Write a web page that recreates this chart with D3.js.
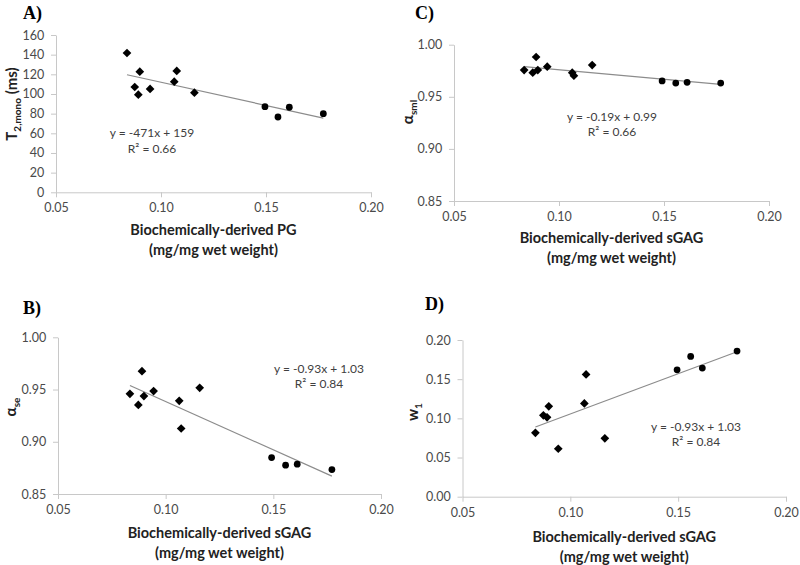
<!DOCTYPE html>
<html><head><meta charset="utf-8">
<script src="https://cdn.jsdelivr.net/npm/d3@7"></script>
<style>
body{margin:0;background:#fff;}
svg{display:block;font-family:Lato,"Open Sans",sans-serif;}
</style></head>
<body><svg id="chart" width="800" height="565"></svg>
<script>
// ---- data ----
const markerType = ["diamond","diamond","diamond","diamond","diamond","diamond","diamond","diamond","circle","circle","circle","circle"];

const pgA = [0.0838,0.0875,0.0892,0.0899,0.0948,0.1063,0.1075,0.1159,0.1495,0.1557,0.1611,0.1773];
const t2A = [141.7,107.1,99.3,122.7,105.1,112.5,123.4,101.3,87.1,76.6,86.5,80.0];

const sgagC = [0.0834,0.0875,0.0891,0.0899,0.0944,0.1063,0.1071,0.1158,0.1491,0.1556,0.1610,0.1770];
const asmlC = [0.9757,0.9731,0.9882,0.9757,0.9789,0.9731,0.9702,0.9805,0.9652,0.9632,0.9639,0.9632];

const sgagB = [0.0834,0.0873,0.0890,0.0899,0.0944,0.1063,0.1072,0.1158,0.1492,0.1557,0.1611,0.1772];
const aseB  = [0.9459,0.9353,0.9676,0.9437,0.9485,0.9392,0.9127,0.9516,0.8849,0.8776,0.8785,0.8734];

const sgagD = [0.0838,0.0875,0.0892,0.0900,0.0944,0.1065,0.1073,0.1160,0.1495,0.1558,0.1612,0.1773];
const w1D   = [0.0816,0.1038,0.1013,0.1153,0.0612,0.1191,0.1561,0.0745,0.1620,0.1791,0.1642,0.1859];

// trend lines [slope, intercept]
const trendA = [-471, 159];
const trendC = [-0.182, 0.9942];
const trendB = [-0.925, 1.031];
const trendD = [1.028, 0.0028];

const xTicks  = [0.05,0.10,0.15,0.20];
const yTicksA = [0,20,40,60,80,100,120,140,160];
const yTicksBC = [0.85,0.90,0.95,1.00];
const yTicksD = [0.00,0.05,0.10,0.15,0.20];

const eqA = ["y = -471x + 159","R² = 0.66"];
const eqC = ["y = -0.19x + 0.99","R² = 0.66"];
const eqB = ["y = -0.93x + 1.03","R² = 0.84"];
const eqD = ["y = -0.93x + 1.03","R² = 0.84"];

// ---- layout ----
const panels = [
 {label:"A)", lx:23, ly:19, x:pgA, y:t2A, trend:trendA, xr:[56,371], yr:[192.3,35], yd:[0,160], yt:yTicksA, fmt:d3.format("d"),
  title:["Biochemically-derived PG","(mg/mg wet weight)"], ty:[235,255], ytitle:{main:"T",sub:"2,mono",after:" (ms)",x:17,y:104},
  eq:eqA, ex:152, ey:[137,153]},
 {label:"C)", lx:415, ly:19, x:sgagC, y:asmlC, trend:trendC, xr:[454,769], yr:[201,44.7], yd:[0.85,1.0], yt:yTicksBC, fmt:d3.format(".2f"),
  title:["Biochemically-derived sGAG","(mg/mg wet weight)"], ty:[243,263], ytitle:{main:"α",sub:"sml",after:"",x:413,y:112},
  eq:eqC, ex:612, ey:[121,136]},
 {label:"B)", lx:23, ly:314, x:sgagB, y:aseB, trend:trendB, xr:[58,381], yr:[494,337.3], yd:[0.85,1.0], yt:yTicksBC, fmt:d3.format(".2f"),
  title:["Biochemically-derived sGAG","(mg/mg wet weight)"], ty:[538,558], ytitle:{main:"α",sub:"se",after:"",x:16,y:407},
  eq:eqB, ex:319, ey:[373,388]},
 {label:"D)", lx:425, ly:310, x:sgagD, y:w1D, trend:trendD, xr:[462.5,786], yr:[496.7,340], yd:[0,0.20], yt:yTicksD, fmt:d3.format(".2f"),
  title:["Biochemically-derived sGAG","(mg/mg wet weight)"], ty:[542,562], ytitle:{main:"w",sub:"1",after:"",x:418,y:412},
  eq:eqD, ex:696, ey:[431,446]}
];

const svg = d3.select("#chart");
const axisColor = "#c8c8c8", textColor = "#4a4a4a";

panels.forEach(p => {
  const g = svg.append("g");
  const xs = d3.scaleLinear().domain([0.05,0.20]).range(p.xr);
  const ys = d3.scaleLinear().domain(p.yd).range(p.yr);

  const xa = g.append("g").attr("transform",`translate(0,${p.yr[0]})`)
    .call(d3.axisBottom(xs).tickValues(xTicks).tickFormat(d3.format(".2f")).tickSize(5).tickSizeOuter(0));
  const ya = g.append("g").attr("transform",`translate(${p.xr[0]},0)`)
    .call(d3.axisLeft(ys).tickValues(p.yt).tickFormat(p.fmt).tickSize(5).tickSizeOuter(0));
  [xa,ya].forEach(a=>{
    a.selectAll("path,line").attr("stroke",axisColor).attr("stroke-width",1);
    a.selectAll("text").attr("fill",textColor).attr("font-size",12.5).attr("font-family","Lato, sans-serif");
  });
  xa.selectAll("text").attr("dy","0.95em");
  ya.selectAll("text").attr("dx","-0.3em");

  const x0 = d3.min(p.x), x1 = d3.max(p.x);
  g.append("line")
    .attr("x1",xs(x0)).attr("y1",ys(p.trend[0]*x0+p.trend[1]))
    .attr("x2",xs(x1)).attr("y2",ys(p.trend[0]*x1+p.trend[1]))
    .attr("stroke","#8c8c8c").attr("stroke-width",1.2);

  const pts = p.x.map((v,i)=>({x:v,y:p.y[i],t:markerType[i]}));
  g.selectAll("path.pt").data(pts).enter().append("path")
    .attr("class","pt")
    .attr("d",d=> d.t==="diamond"
        ? d3.symbol(d3.symbolSquare, 38)()
        : d3.symbol(d3.symbolCircle, 36)())
    .attr("transform",d=> d.t==="diamond"
        ? `translate(${xs(d.x)},${ys(d.y)}) rotate(45)`
        : `translate(${xs(d.x)},${ys(d.y)})`)
    .attr("fill","#000");

  p.eq.forEach((t,i)=>{
    g.append("text").attr("x",p.ex).attr("y",p.ey[i]).attr("text-anchor","middle")
      .attr("font-size",12).attr("fill","#404040").text(t);
  });

  p.title.forEach((t,i)=>{
    g.append("text").attr("x",(p.xr[0]+p.xr[1])/2).attr("y",p.ty[i]).attr("text-anchor","middle")
      .attr("font-size",14.5).attr("font-weight","bold").attr("fill","#222").text(t);
  });

  const yt = g.append("text").attr("transform",`translate(${p.ytitle.x},${p.ytitle.y}) rotate(-90)`)
    .attr("text-anchor","middle").attr("font-size",15).attr("font-weight","bold").attr("fill","#222");
  yt.append("tspan").text(p.ytitle.main);
  yt.append("tspan").attr("font-size",10).attr("dy",4).text(p.ytitle.sub);
  if (p.ytitle.after) yt.append("tspan").attr("dy",-4).text(p.ytitle.after);

  g.append("text").attr("x",p.lx).attr("y",p.ly).attr("font-family","'Liberation Serif', 'Times New Roman', serif")
    .attr("font-weight","bold").attr("font-size",18).attr("fill","#000").text(p.label);
});
</script></body></html>
